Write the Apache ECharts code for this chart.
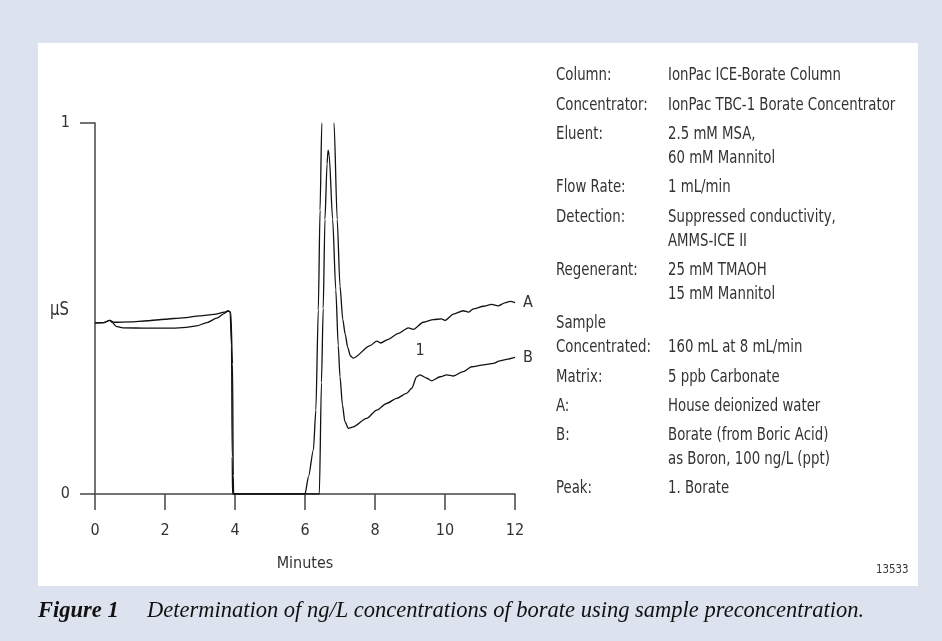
<!DOCTYPE html>
<html>
<head>
<meta charset="utf-8">
<script src="https://cdn.jsdelivr.net/npm/echarts@6/dist/echarts.min.js"></script>
<style>
  html, body { margin: 0; padding: 0; background: #dce3ee; }
  #chart { width: 942px; height: 641px; }
</style>
</head>
<body>
<div id="chart"></div>
<script>
// chromatogram A (house deionized water)
const timesA = [0, 0.25, 0.42, 0.55, 1.0, 1.5, 2.0, 2.5, 3.0, 3.4, 3.7, 3.8, 3.86, 3.9, 3.92, 3.93,
  6.0, 6.1, 6.24, 6.31, 6.38, 6.43, 6.48, 6.66, 6.83, 6.92, 7.0, 7.08, 7.15, 7.22, 7.3, 7.38,
  7.86, 8.05, 8.16, 8.38, 8.67, 8.95, 9.1, 9.38, 9.67, 9.9, 10.0, 10.24, 10.52, 10.67, 10.81,
  11.1, 11.33, 11.52, 11.71, 11.86, 12.0];
const valuesA = [0.461, 0.462, 0.468, 0.463, 0.464, 0.467, 0.471, 0.475, 0.48, 0.484, 0.49, 0.493, 0.491, 0.4, 0.1, 0,
  0, 0.047, 0.119, 0.226, 0.496, 0.765, 1.0, 1.7, 1.0, 0.74, 0.56, 0.47, 0.43, 0.395, 0.372, 0.366,
  0.4, 0.412, 0.407, 0.417, 0.433, 0.448, 0.444, 0.463, 0.47, 0.472, 0.468, 0.485, 0.494, 0.49, 0.499,
  0.506, 0.511, 0.507, 0.515, 0.519, 0.516];

// chromatogram B (borate, 100 ng/L)
const timesB = [0, 0.25, 0.42, 0.5, 0.6, 0.8, 1.5, 2.2, 2.6, 2.9, 3.2, 3.48, 3.7, 3.8, 3.88, 3.93, 3.95, 3.96,
  6.41, 6.47, 6.52, 6.57, 6.63, 6.66, 6.69, 6.79, 6.88, 6.95, 7.0, 7.07, 7.14, 7.24,
  7.38, 7.76, 8.05, 8.33, 8.62, 8.9, 9.05, 9.19, 9.29, 9.48, 9.62, 9.86, 10.05, 10.24, 10.52,
  10.76, 11.1, 11.38, 11.57, 11.76, 12.0];
const valuesB = [0.461, 0.462, 0.468, 0.462, 0.452, 0.448, 0.447, 0.447, 0.449, 0.453, 0.462, 0.474, 0.487, 0.494, 0.49, 0.35, 0.05, 0,
  0, 0.3, 0.5, 0.74, 0.89, 0.927, 0.915, 0.74, 0.55, 0.4, 0.316, 0.24, 0.195, 0.177,
  0.181, 0.204, 0.226, 0.244, 0.258, 0.271, 0.285, 0.316, 0.321, 0.312, 0.305, 0.316, 0.321, 0.318, 0.33,
  0.343, 0.348, 0.352, 0.359, 0.363, 0.368];

const peakTime = 9.29;
const peakValue = 0.321;

const infoLabels = ['Column:', 'Concentrator:', 'Eluent:', 'Flow Rate:', 'Detection:', 'Regenerant:',
  'Sample\nConcentrated:', 'Matrix:', 'A:', 'B:', 'Peak:'];
const infoValues = ['IonPac ICE-Borate Column', 'IonPac TBC-1 Borate Concentrator', '2.5 mM MSA,\n60 mM Mannitol',
  '1 mL/min', 'Suppressed conductivity,\nAMMS-ICE II', '25 mM TMAOH\n15 mM Mannitol',
  '\n160 mL at 8 mL/min', '5 ppb Carbonate', 'House deionized water',
  'Borate (from Boric Acid)\nas Boron, 100 ng/L (ppt)', '1. Borate'];

const captionLead = 'Figure 1';
const captionText = 'Determination of ng/L concentrations of borate using sample preconcentration.';
const figureNumber = '13533';

const FONT = "'DejaVu Sans Condensed', 'Liberation Sans Narrow', sans-serif";
const SERIF = "'Liberation Serif', 'DejaVu Serif', serif";
const TEXT = '#333';
const AXIS = '#444';
const NARROW = 0.87; // the original face is narrower than any installed one

const pairs = (xs, ys) => xs.map((x, i) => [x, ys[i]]);

const narrowText = (text, x, y, size, extra = {}) => ({
  type: 'text', z: 10, silent: true, x, y, scaleX: NARROW,
  style: Object.assign({ text, x: 0, y: 0, font: `${size}px ${FONT}`, fill: TEXT, verticalAlign: 'top' }, extra)
});

// white panel + text block at the right
const graphics = [
  { type: 'rect', z: -10, silent: true, shape: { x: 38, y: 43, width: 880, height: 543 }, style: { fill: '#fff' } }
];
let rowTop = 64;
infoLabels.forEach((label, i) => {
  const lines = Math.max(label.split('\n').length, infoValues[i].split('\n').length);
  graphics.push(narrowText(label, 556, rowTop, 17, { lineHeight: 24 }));
  graphics.push(narrowText(infoValues[i], 668, rowTop, 17, { lineHeight: 24 }));
  rowTop += lines * 24 + 5.3;
});
graphics.push(
  narrowText('µS', 50, 310, 19, { verticalAlign: 'middle' }),
  narrowText(figureNumber, 876, 570, 13, { verticalAlign: 'middle' }),
  { type: 'text', z: 10, silent: true, style: { text: captionLead, x: 38, y: 611, font: `italic bold 22.5px ${SERIF}`, fill: '#111', verticalAlign: 'middle' } },
  { type: 'text', z: 10, silent: true, style: { text: captionText, x: 147, y: 611, font: `italic 22.5px ${SERIF}`, fill: '#111', verticalAlign: 'middle' } }
);

const lineStyle = { color: '#111', width: 1.3 };
const endLabel = { show: true, formatter: '{a}', distance: 8, color: TEXT, fontFamily: FONT, fontSize: 16 };

const chart = echarts.init(document.getElementById('chart'));
chart.setOption({
  backgroundColor: '#dce3ee',
  animation: false,
  grid: { left: 95, top: 123, width: 420, height: 371 },
  xAxis: {
    type: 'value', min: 0, max: 12, interval: 2,
    name: 'Minutes', nameLocation: 'middle', nameGap: 62,
    nameTextStyle: { color: TEXT, fontFamily: FONT, fontSize: 16 },
    axisLine: { lineStyle: { color: AXIS, width: 1.5 } },
    axisTick: { length: 16, lineStyle: { color: AXIS, width: 1.5 } },
    axisLabel: { margin: 29, color: TEXT, fontFamily: FONT, fontSize: 16 },
    splitLine: { show: false }
  },
  yAxis: {
    type: 'value', min: 0, max: 1, interval: 1,
    axisLine: { show: true, lineStyle: { color: AXIS, width: 1.5 } },
    axisTick: { show: true, length: 15, lineStyle: { color: AXIS, width: 1.5 } },
    axisLabel: { margin: 25, color: TEXT, fontFamily: FONT, fontSize: 16 },
    splitLine: { show: false }
  },
  graphic: graphics,
  series: [
    {
      name: 'A', type: 'line', data: pairs(timesA, valuesA), showSymbol: false, clip: true,
      smooth: 0.25, smoothMonotone: 'x', lineStyle, endLabel
    },
    {
      name: 'B', type: 'line', data: pairs(timesB, valuesB), showSymbol: false, clip: true,
      smooth: 0.25, smoothMonotone: 'x', lineStyle, endLabel,
      markPoint: {
        symbolSize: 0,
        data: [{ coord: [peakTime, peakValue] }],
        label: { show: true, formatter: '1', position: 'top', distance: 16, color: TEXT, fontFamily: FONT, fontSize: 16 }
      }
    }
  ]
});
</script>
</body>
</html>
